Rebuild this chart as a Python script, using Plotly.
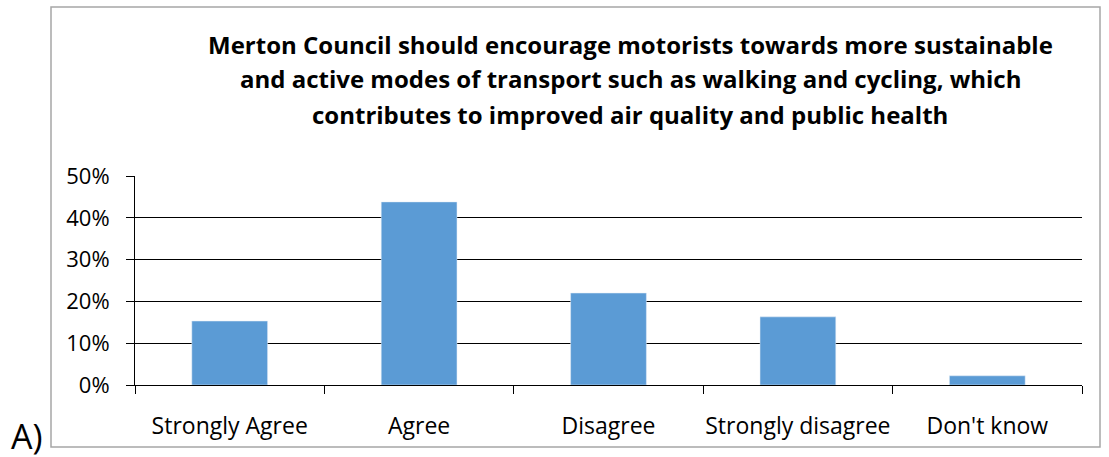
import plotly.graph_objects as go

categories = ["Strongly Agree", "Agree", "Disagree", "Strongly disagree", "Don't know"]
values = [0.153, 0.438, 0.220, 0.163, 0.022]
title_lines = [
    "Merton Council should encourage motorists towards more sustainable",
    "and active modes of transport such as walking and cycling, which",
    "contributes to improved air quality and public health",
]
tick_vals = [0, 0.1, 0.2, 0.3, 0.4, 0.5]
tick_text = ["0%", "10%", "20%", "30%", "40%", "50%"]

W, H = 1109, 457
# plot area in page pixels
L, R, T, B = 135, 1082, 176, 385
FONT = "Open Sans, sans-serif"

def px(x):
    return (x - L) / (R - L)

def py(y):
    return (B - y) / (B - T)

fig = go.Figure(go.Bar(
    x=categories, y=values, marker_color="#5B9BD5", width=0.4,
))

fig.update_layout(
    width=W, height=H,
    margin=dict(l=L, r=W - R, t=T, b=H - B, pad=0, autoexpand=False),
    paper_bgcolor="white", plot_bgcolor="white",
    showlegend=False,
    font=dict(family=FONT, size=20, color="black"),
)
fig.update_yaxes(
    range=[0, 0.5], tickvals=tick_vals, ticktext=tick_text,
    showgrid=True, gridcolor="black", gridwidth=1,
    showline=True, linecolor="black", linewidth=1,
    ticks="outside", ticklen=8, tickcolor="black", ticklabelstandoff=12,
    tickfont=dict(family=FONT, size=22), zeroline=False, automargin=False,
)
fig.update_xaxes(
    showline=True, linecolor="black", linewidth=1,
    ticks="outside", ticklen=8, tickcolor="black", tickson="boundaries",
    ticklabelstandoff=20, tickangle=0, automargin=False,
    tickfont=dict(family=FONT, size=23), range=[-0.5, 4.5],
)

# border
fig.add_shape(type="rect", xref="paper", yref="paper",
              x0=px(51), x1=px(1100), y0=py(447), y1=py(7),
              line=dict(color="#A6A6A6", width=1.5), layer="below")

for i, (line, yc) in enumerate(zip(title_lines, [44, 79, 114])):
    fig.add_annotation(text=f"<b>{line}</b>", xref="paper", yref="paper",
                       x=px(630), y=py(yc), showarrow=False,
                       xanchor="center", yanchor="middle",
                       font=dict(family=FONT, size=24, color="black"))

fig.add_annotation(text="A)", xref="paper", yref="paper", x=px(9), y=py(436),
                   showarrow=False, xanchor="left", yanchor="middle",
                   font=dict(family=FONT, size=34, color="black"))

fig.write_html(
    "out.html",
    config={"displayModeBar": False},
    post_script="document.body.style.margin='0px';document.body.style.overflow='hidden';",
)
